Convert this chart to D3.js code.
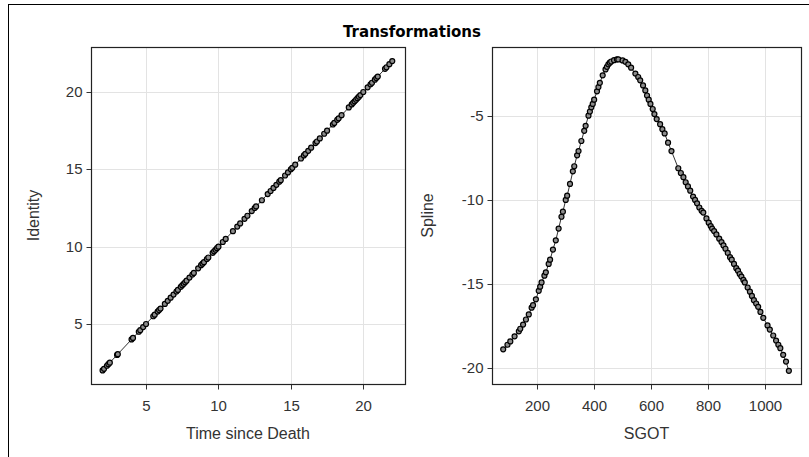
<!DOCTYPE html>
<html>
<head>
<meta charset="utf-8">
<script src="https://cdn.jsdelivr.net/npm/d3@7"></script>
<style>
  body { margin: 0; background: #fff; }
  .tick text { font-family: "Liberation Sans", Arial, sans-serif; font-size: 15px; fill: #333; }
  .axislabel { font-family: "Liberation Sans", Arial, sans-serif; font-size: 16px; fill: #333; }
  .title { font-family: "DejaVu Sans", Verdana, sans-serif; font-size: 15px; font-weight: bold; fill: #000; }
  .grid line { stroke: #e3e3e3; stroke-width: 1; }
  .frame { fill: none; stroke: #222; stroke-width: 1.2; }
  .curve { fill: none; stroke: #333; stroke-width: 1; }
  .dot { fill: #8c8c8c; stroke: #000; stroke-width: 1.2; }
</style>
</head>
<body>
<div id="chart"></div>
<script>
// left panel: Time since Death vs. its Identity transformation
var timeSinceDeath = [2.0, 2.1, 2.3, 2.4, 2.5, 3.0, 3.05, 4.0, 4.1, 4.5, 4.6, 4.8, 5.0, 5.5, 5.6, 5.8, 5.9,
  6.0, 6.3, 6.5, 6.7, 6.9, 7.1, 7.2, 7.4, 7.5, 7.6, 7.7, 7.8, 8.0, 8.2, 8.3, 8.6, 8.8, 8.9, 9.0, 9.2,
  9.3, 9.6, 9.7, 9.8, 9.9, 10.0, 10.3, 10.5, 11.0, 11.3, 11.5, 11.8, 12.0, 12.3, 12.5, 12.6, 13.0, 13.4,
  13.6, 13.8, 14.0, 14.2, 14.3, 14.6, 14.8, 15.0, 15.1, 15.3, 15.7, 15.9, 16.0, 16.2, 16.4, 16.7, 16.8,
  17.0, 17.3, 17.5, 17.9, 18.0, 18.2, 18.3, 18.5, 19.0, 19.2, 19.3, 19.4, 19.5, 19.6, 19.7, 19.8, 20.0,
  20.3, 20.5, 20.6, 20.8, 20.9, 21.0, 21.5, 21.6, 21.8, 22.0];
var identity = [2.0, 2.1, 2.3, 2.4, 2.5, 3.0, 3.05, 4.0, 4.1, 4.5, 4.6, 4.8, 5.0, 5.5, 5.6, 5.8, 5.9,
  6.0, 6.3, 6.5, 6.7, 6.9, 7.1, 7.2, 7.4, 7.5, 7.6, 7.7, 7.8, 8.0, 8.2, 8.3, 8.6, 8.8, 8.9, 9.0, 9.2,
  9.3, 9.6, 9.7, 9.8, 9.9, 10.0, 10.3, 10.5, 11.0, 11.3, 11.5, 11.8, 12.0, 12.3, 12.5, 12.6, 13.0, 13.4,
  13.6, 13.8, 14.0, 14.2, 14.3, 14.6, 14.8, 15.0, 15.1, 15.3, 15.7, 15.9, 16.0, 16.2, 16.4, 16.7, 16.8,
  17.0, 17.3, 17.5, 17.9, 18.0, 18.2, 18.3, 18.5, 19.0, 19.2, 19.3, 19.4, 19.5, 19.6, 19.7, 19.8, 20.0,
  20.3, 20.5, 20.6, 20.8, 20.9, 21.0, 21.5, 21.6, 21.8, 22.0];

// right panel: SGOT vs. spline transformation
var sgot = [80, 95, 105, 120, 135, 140, 150, 160, 170, 180, 185, 195, 205, 210, 215, 225, 230, 240, 245,
  255, 265, 275, 285, 290, 300, 305, 315, 325, 330, 340, 345, 355, 365, 370, 380, 385, 390, 395, 400,
  410, 415, 420, 430, 440, 445, 450, 455, 460, 470, 480, 485, 500, 510, 520, 530, 545, 555, 562, 572,
  580, 586, 592, 598, 606, 612, 620, 632, 640, 648, 660, 672, 696, 705, 714, 722, 730, 738, 748, 755,
  762, 770, 778, 784, 795, 803, 810, 815, 822, 830, 840, 848, 855, 862, 870, 878, 884, 892, 900, 906,
  912, 918, 925, 930, 940, 948, 955, 962, 970, 977, 985, 995, 1010, 1018, 1030, 1040, 1048, 1055, 1065,
  1075, 1085];
var spline = [-18.87, -18.6, -18.4, -18.1, -17.8, -17.65, -17.4, -17.1, -16.8, -16.4, -16.25, -15.9, -15.4,
  -15.15, -14.9, -14.5, -14.3, -13.8, -13.55, -12.95, -12.4, -11.7, -11.0, -10.7, -10.0, -9.75, -9.05,
  -8.3, -8.0, -7.35, -7.1, -6.5, -5.9, -5.6, -5.0, -4.75, -4.5, -4.3, -4.05, -3.55, -3.3, -3.05, -2.6,
  -2.25, -2.1, -1.95, -1.85, -1.78, -1.7, -1.65, -1.66, -1.72, -1.8, -1.95, -2.15, -2.5, -2.7, -2.9,
  -3.2, -3.5, -3.8, -4.05, -4.3, -4.6, -4.9, -5.2, -5.5, -5.8, -6.05, -6.6, -7.1, -8.12, -8.4, -8.65,
  -8.95, -9.2, -9.45, -9.8, -10.0, -10.2, -10.45, -10.65, -10.75, -11.1, -11.35, -11.55, -11.7, -11.85,
  -12.05, -12.3, -12.5, -12.7, -12.9, -13.15, -13.4, -13.55, -13.8, -14.05, -14.2, -14.4, -14.55, -14.75,
  -14.9, -15.2, -15.45, -15.7, -15.95, -16.15, -16.35, -16.65, -17.0, -17.45, -17.7, -18.05, -18.35,
  -18.6, -18.8, -19.2, -19.6, -20.15];

var leftXTicks = [5, 10, 15, 20];
var leftYTicks = [5, 10, 15, 20];
var rightXTicks = [200, 400, 600, 800, 1000];
var rightYTicks = [-20, -15, -10, -5];

var width = 809, height = 457;

var svg = d3.select("#chart").append("svg")
  .attr("width", width)
  .attr("height", height);

// outer border (runs off the right / bottom edge like the original)
svg.append("rect")
  .attr("x", 8.5).attr("y", 4.5)
  .attr("width", 830).attr("height", 480)
  .attr("fill", "none").attr("stroke", "#000");

svg.append("text")
  .attr("class", "title")
  .attr("x", 412).attr("y", 37)
  .attr("text-anchor", "middle")
  .text("Transformations");

var plainNum = function(d){ return String(d); }; // keep hyphen minus, no thousands comma

var drawPanel = function(opt){
  var xs = d3.scaleLinear().domain(opt.xDomain).range([opt.left, opt.right]);
  var ys = d3.scaleLinear().domain(opt.yDomain).range([opt.bottom, opt.top]);
  var g = svg.append("g");

  // gridlines
  var grid = g.append("g").attr("class", "grid");
  grid.selectAll(".gx").data(opt.xTicks).enter()
    .append("line")
    .attr("x1", function(d){ return Math.round(xs(d)) + 0.5; })
    .attr("x2", function(d){ return Math.round(xs(d)) + 0.5; })
    .attr("y1", opt.top).attr("y2", opt.bottom);
  grid.selectAll(".gy").data(opt.yTicks).enter()
    .append("line")
    .attr("y1", function(d){ return Math.round(ys(d)) + 0.5; })
    .attr("y2", function(d){ return Math.round(ys(d)) + 0.5; })
    .attr("x1", opt.left).attr("x2", opt.right);

  var pts = opt.xs.map(function(v, i){ return [v, opt.ys[i]]; });

  g.append("path")
    .attr("class", "curve")
    .attr("d", d3.line().x(function(d){ return xs(d[0]); }).y(function(d){ return ys(d[1]); })(pts));

  g.selectAll(".dot").data(pts).enter()
    .append("circle")
    .attr("class", "dot")
    .attr("r", 2.5)
    .attr("cx", function(d){ return xs(d[0]); })
    .attr("cy", function(d){ return ys(d[1]); });

  // axes
  var xAxis = d3.axisBottom(xs).tickValues(opt.xTicks).tickFormat(plainNum).tickSize(5).tickPadding(11).tickSizeOuter(0);
  var yAxis = d3.axisLeft(ys).tickValues(opt.yTicks).tickFormat(plainNum).tickSize(5).tickPadding(4).tickSizeOuter(0);
  var gx = g.append("g").attr("transform", "translate(0," + (opt.bottom + 0.5) + ")").call(xAxis);
  var gy = g.append("g").attr("transform", "translate(" + (opt.left + 0.5) + ",0)").call(yAxis);
  [gx, gy].forEach(function(a){
    a.select(".domain").remove();
    a.selectAll(".tick line").attr("stroke", "#333");
  });
  gx.selectAll(".tick").attr("transform", function(d){ return "translate(" + (Math.round(xs(d)) + 0.5) + ",0)"; });
  gy.selectAll(".tick").attr("transform", function(d){ return "translate(0," + (Math.round(ys(d)) + 0.5) + ")"; });

  g.append("rect")
    .attr("class", "frame")
    .attr("x", opt.left + 0.5).attr("y", opt.top + 0.5)
    .attr("width", opt.right - opt.left).attr("height", opt.bottom - opt.top);

  g.append("text")
    .attr("class", "axislabel")
    .attr("x", (opt.left + opt.right) / 2).attr("y", 439)
    .attr("text-anchor", "middle")
    .text(opt.xLabel);

  g.append("text")
    .attr("class", "axislabel")
    .attr("transform", "translate(" + opt.yLabelX + "," + ((opt.top + opt.bottom) / 2) + ") rotate(-90)")
    .attr("text-anchor", "middle")
    .text(opt.yLabel);
};

drawPanel({
  xs: timeSinceDeath, ys: identity,
  xDomain: [1.2, 22.88], yDomain: [1.12, 22.91],
  left: 91, right: 405, top: 47, bottom: 384,
  xTicks: leftXTicks, yTicks: leftYTicks,
  xLabel: "Time since Death", yLabel: "Identity", yLabelX: 39
});

drawPanel({
  xs: sgot, ys: spline,
  xDomain: [40.6, 1127.7], yDomain: [-20.93, -0.92],
  left: 492, right: 801, top: 47, bottom: 384,
  xTicks: rightXTicks, yTicks: rightYTicks,
  xLabel: "SGOT", yLabel: "Spline", yLabelX: 433
});
</script>
</body>
</html>
